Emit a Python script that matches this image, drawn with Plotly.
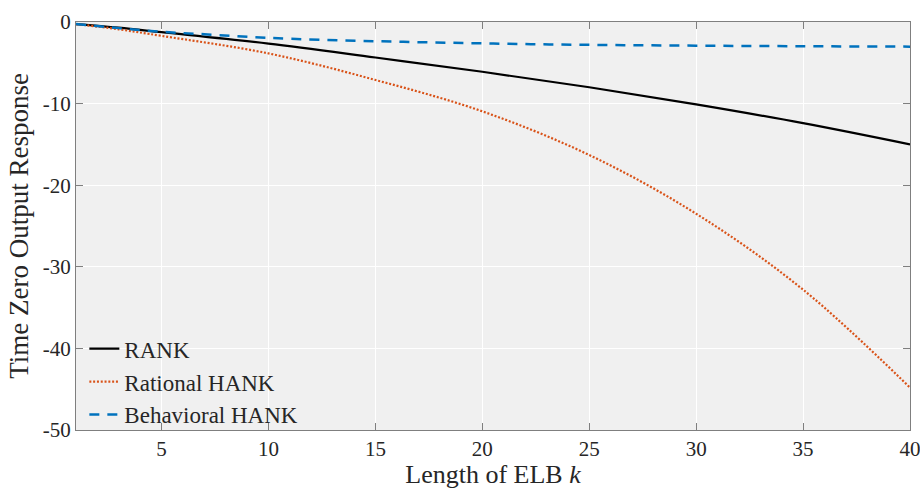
import plotly.graph_objects as go

# Data
k_rank = [1, 3, 5, 10, 15, 20, 25, 30, 35, 40]
y_rank = [-0.25, -0.7, -1.25, -2.65, -4.35, -6.1, -8.0, -10.1, -12.4, -15.0]

k_rat = [1, 3, 5, 10, 15, 20, 25, 30, 35, 40]
y_rat = [-0.25, -0.9, -1.7, -3.85, -7.1, -10.95, -16.3, -23.5, -32.8, -44.8]

k_beh = [1, 3, 5, 7, 10, 15, 20, 25, 30, 35, 40]
y_beh = [-0.25, -0.75, -1.2, -1.5, -1.95, -2.35, -2.62, -2.8, -2.9, -2.97, -3.02]

x_ticks = [5, 10, 15, 20, 25, 30, 35, 40]
y_ticks = [0, -10, -20, -30, -40, -50]
y_tick_labels = ["0", "-10", "-20", "-30", "-40", "-50"]

FONT = "Liberation Serif"
TXT = "#262626"

fig = go.Figure()
fig.add_trace(go.Scatter(x=k_rank, y=y_rank, mode="lines", name="RANK",
                         line=dict(color="black", width=2.2, shape="spline")))
fig.add_trace(go.Scatter(x=k_rat, y=y_rat, mode="lines", name="Rational HANK",
                         line=dict(color="#D95319", width=2.2, dash="2px,1.8px", shape="spline")))
fig.add_trace(go.Scatter(x=k_beh, y=y_beh, mode="lines", name="Behavioral HANK",
                         line=dict(color="#0072BD", width=2.5, dash="10px,8px", shape="spline")))

axis_common = dict(showline=True, mirror="ticks", linecolor="#7f7f7f", linewidth=1,
                   ticks="inside", ticklen=7, tickcolor="#7f7f7f",
                   showgrid=True, gridcolor="white", gridwidth=1, zeroline=False,
                   automargin=False, ticklabeloverflow="allow",
                   tickfont=dict(family=FONT, size=21, color=TXT))

fig.update_xaxes(range=[1, 40], tickvals=x_ticks,
                 title=dict(text="Length of ELB <i>k</i>", standoff=2,
                            font=dict(family=FONT, size=26, color=TXT)),
                 **axis_common)
fig.update_yaxes(range=[-50, 0], tickvals=y_ticks, ticktext=y_tick_labels,
                 title=dict(text="Time Zero Output Response", standoff=6,
                            font=dict(family=FONT, size=27, color=TXT)),
                 **axis_common)

fig.update_layout(
    width=920, height=489,
    margin=dict(l=76, r=10, t=22, b=59),
    plot_bgcolor="#f0f0f0", paper_bgcolor="white",
    font=dict(family=FONT, color=TXT),
    showlegend=True,
    legend=dict(x=0.01, y=0.252, xanchor="left", yanchor="top",
                bgcolor="rgba(0,0,0,0)", borderwidth=0,
                font=dict(family=FONT, size=23, color=TXT),
                itemwidth=30, tracegroupgap=0),
)

fig.write_html("out.html", config={"displayModeBar": False},
               post_script="document.body.style.margin='0';document.body.style.overflow='hidden';")
